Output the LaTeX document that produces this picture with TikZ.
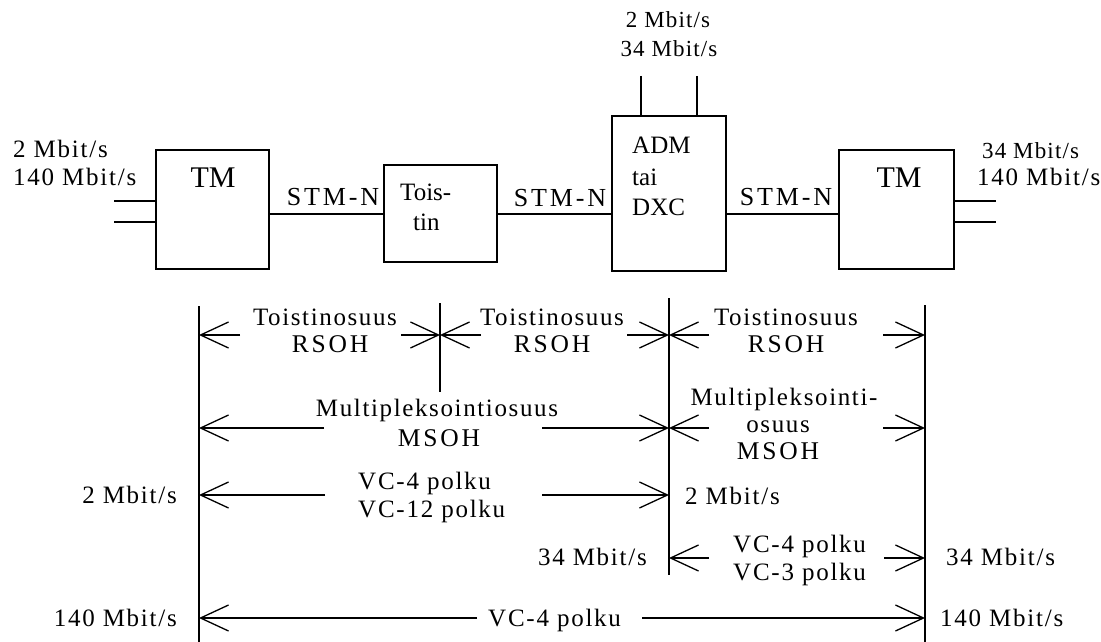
\documentclass[tikz,border=0pt]{standalone}
\usepackage{fontspec}
\setmainfont{Liberation Serif}
\newfontfamily\fwide{Liberation Serif}[LetterSpace=7]
\newfontfamily\ftight{Liberation Serif}[LetterSpace=5]
\newfontfamily\flow{Liberation Serif}[LetterSpace=6.5]
\newfontfamily\fcaps{Liberation Serif}[LetterSpace=11]
\usetikzlibrary{arrows.meta}
\begin{document}
\begin{tikzpicture}[x=1pt,y=-1pt,
  unit/.style={draw, line width=1.5pt, inner sep=0pt},
  wire/.style={line width=1.4pt},
  dimline/.style={line width=1.3pt},
  half/.style={line width=1.3pt, -{Straight Barb[length=28pt,width=26pt,line join=miter]}},
  mb/.style={inner sep=0pt, font=\fwide\fontsize{25}{29}\selectfont},
  mbt/.style={inner sep=0pt, font=\ftight\fontsize{23}{27}\selectfont},
  dimtxt/.style={inner sep=0pt, font=\flow\fontsize{25}{29}\selectfont},
  dimcap/.style={inner sep=0pt, font=\fcaps\fontsize{25.5}{29}\selectfont},
  stm/.style={inner sep=0pt, font=\fcaps\fontsize{26}{30}\selectfont},
  boxbig/.style={inner sep=0pt, font=\fontsize{30}{34}\selectfont},
  boxsmall/.style={inner sep=0pt, font=\fontsize{25}{29}\selectfont}]
\useasboundingbox (0,0) rectangle (1101,642);
\fill[white] (0,0) rectangle (1101,642);

% units
\node[unit, minimum width=113pt, minimum height=119pt] (tmL) at (212.5,209.5) {};
\node[unit, minimum width=113pt, minimum height=97pt] (tois) at (440.5,213.5) {};
\node[unit, minimum width=114pt, minimum height=155pt] (adm) at (669,193.5) {};
\node[unit, minimum width=115pt, minimum height=119pt] (tmR) at (896.5,209.5) {};

% links
\coordinate (ly) at (0,214);
\draw[wire] (tmL.east |- ly) -- (tois.west |- ly);
\draw[wire] (tois.east |- ly) -- (adm.west |- ly);
\draw[wire] (adm.east |- ly) -- (tmR.west |- ly);

% tributaries
\coordinate (inA) at (114,201);
\coordinate (inB) at (114,222);
\draw[wire] (inA) -- (inA -| tmL.west);
\draw[wire] (inB) -- (inB -| tmL.west);
\coordinate (outA) at (996,201);
\coordinate (outB) at (996,222);
\draw[wire] (outA -| tmR.east) -- (outA);
\draw[wire] (outB -| tmR.east) -- (outB);
\coordinate (upA) at (641,76);
\coordinate (upB) at (697,76);
\draw[wire] (upA) -- (upA |- adm.north);
\draw[wire] (upB) -- (upB |- adm.north);

% unit texts
\node[boxbig, anchor=base] (tmLt) at (213,187) {TM};
\node[boxbig, anchor=base] (tmRt) at (899,187) {TM};
\node[boxsmall, anchor=base west] (toisA) at (400,200) {Tois-};
\node[boxsmall, anchor=base west] (toisB) at (413,230) {tin};
\node[boxsmall, anchor=base west] (admA) at (632,153) {ADM};
\node[boxsmall, anchor=base west] (admB) at (632,185) {tai};
\node[boxsmall, anchor=base west] (admC) at (632,215) {DXC};
\node[stm, anchor=base] (stm1) at (333,205) {STM-N};
\node[stm, anchor=base] (stm2) at (560,206) {STM-N};
\node[stm, anchor=base] (stm3) at (786,205) {STM-N};

% rate labels at top
\node[mbt, anchor=base] (t2) at (668,28) {2 Mbit/s};
\node[mbt, anchor=base] (t34) at (669,57) {34 Mbit/s};
\node[mb, anchor=base west] (l2) at (13,157) {2 Mbit/s};
\node[mb, anchor=base west] (l140) at (13,185) {140 Mbit/s};
\node[mbt, anchor=base west] (r34) at (982,158) {34 Mbit/s};
\node[mb, anchor=base west] (r140) at (977,185) {140 Mbit/s};

% verticals
\coordinate (vA1) at (199,306); \coordinate (vA2) at (199,642);
\coordinate (vB1) at (440,303); \coordinate (vB2) at (440,392);
\coordinate (vC1) at (669,298); \coordinate (vC2) at (669,575);
\coordinate (vD1) at (925,305); \coordinate (vD2) at (925,642);
\draw[dimline] (vA1) -- (vA2);
\draw[dimline] (vB1) -- (vB2);
\draw[dimline] (vC1) -- (vC2);
\draw[dimline] (vD1) -- (vD2);

% half arrows
\foreach \n/\a/\b/\y in {1/240/199/335, 2/401/440/335, 3/481/440/335, 4/627/669/335,
  5/709/669/335, 6/883/925/335, 7/324/199/428, 8/542/669/428, 9/709/669/428,
  10/883/925/428, 11/325/199/495, 12/542/669/495, 13/709/669/558, 14/884/925/558,
  15/477/199/618, 16/642/925/618}{
  \coordinate (h\n a) at (\a,\y);
  \coordinate (h\n b) at (\b,\y);
  \draw[half] (h\n a) -- (h\n b);
}

% dimension texts
\node[dimtxt, anchor=base] (rs1) at (325,325) {Toistinosuus};
\node[dimcap, anchor=base] (rs1b) at (330,352) {RSOH};
\node[dimtxt, anchor=base] (rs2) at (552,325) {Toistinosuus};
\node[dimcap, anchor=base] (rs2b) at (552,352) {RSOH};
\node[dimtxt, anchor=base] (rs3) at (786,325) {Toistinosuus};
\node[dimcap, anchor=base] (rs3b) at (786,352) {RSOH};
\node[dimtxt, anchor=base] (ms1) at (437,416) {Multipleksointiosuus};
\node[dimcap, anchor=base] (ms1b) at (439,446) {MSOH};
\node[dimtxt, anchor=base] (ms2) at (784,405) {Multipleksointi-};
\node[dimtxt, anchor=base] (ms2b) at (778,432) {osuus};
\node[dimcap, anchor=base] (ms2c) at (778,459) {MSOH};

\node[mb, anchor=base west] (p1a) at (358,489) {VC-4 polku};
\node[mb, anchor=base west] (p1b) at (358,517) {VC-12 polku};
\node[mb, anchor=base east] (p1l) at (177,503) {2 Mbit/s};
\node[mb, anchor=base west] (p1r) at (685,504) {2 Mbit/s};
\node[mb, anchor=base east] (p2l) at (647,565) {34 Mbit/s};
\node[mb, anchor=base west] (p2a) at (733,552) {VC-4 polku};
\node[mb, anchor=base west] (p2b) at (733,580) {VC-3 polku};
\node[mb, anchor=base west] (p2r) at (946,565) {34 Mbit/s};
\node[mb, anchor=base east] (p3l) at (177,626) {140 Mbit/s};
\node[mb, anchor=base west] (p3a) at (488,626) {VC-4 polku};
\node[mb, anchor=base west] (p3r) at (940,626) {140 Mbit/s};
\end{tikzpicture}
\end{document}
